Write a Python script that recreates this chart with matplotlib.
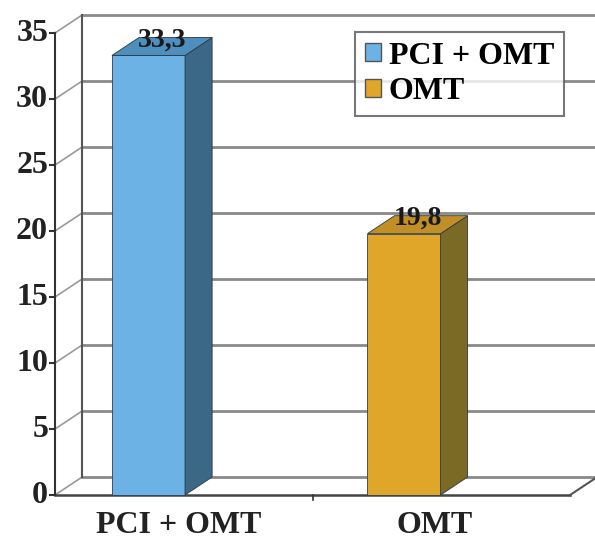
import matplotlib.pyplot as plt
from matplotlib.patches import Polygon, Patch

plt.rcParams['font.family'] = ['Liberation Serif', 'DejaVu Serif']
plt.rcParams['font.weight'] = 'bold'

# data
groups = ['PCI + OMT', 'OMT']
values = [33.3, 19.8]
y_ticks = [0, 5, 10, 15, 20, 25, 30, 35]

front_colors = ['#6cb2e4', '#e0a62a']
side_colors = ['#3b6884', '#7b6a26']
top_colors = ['#4f8fbd', '#c28f27']

# 3d look: depth offset in data units
DX = 0.106
DY = 1.36
BAR_W = 0.286
X_LEFT = -0.366
X_RIGHT = 1.65
Y_MAX = 35

fig = plt.figure(figsize=(5.95, 5.42), dpi=100)
ax = fig.add_axes([0, 0, 1, 1])
ax.set_xlim(-0.5812, 1.7476)
ax.set_ylim(-3.56, 37.5)
ax.axis('off')

grid_col = '#8a8a8a'

# back wall gridlines + left wall diagonals
for t in y_ticks:
    ax.plot([X_LEFT + DX, X_RIGHT + DX + 0.02], [t + DY, t + DY], color=grid_col, lw=2, zorder=1)
    ax.plot([X_LEFT, X_LEFT + DX], [t, t + DY], color='#9a9a9a', lw=1.2, zorder=1)
ax.plot([X_LEFT + DX, X_LEFT + DX], [DY, Y_MAX + DY], color='#555555', lw=1.5, zorder=1)

# floor
ax.plot([X_LEFT, X_RIGHT], [0, 0], color='#444444', lw=1.8, zorder=1)
ax.plot([X_RIGHT, X_RIGHT + DX], [0, DY], color='#555555', lw=1.5, zorder=1)

# front value axis with ticks
ax.plot([X_LEFT, X_LEFT], [0, Y_MAX], color='#333333', lw=1.5, zorder=4)
for t in y_ticks:
    ax.plot([X_LEFT - 0.02, X_LEFT], [t, t], color='#333333', lw=1.5, zorder=4)
    ax.text(X_LEFT - 0.027, t, str(t), ha='right', va='center', fontsize=23, color='#222222')
ax.plot([0.642, 0.642], [0, -0.35], color='#333333', lw=1.2)

# bars
for i, v in enumerate(values):
    l = i - BAR_W / 2
    r = i + BAR_W / 2
    ax.add_patch(Polygon([(l, 0), (r, 0), (r, v), (l, v)], closed=True,
                         facecolor=front_colors[i], edgecolor='#2a4050', lw=0.6, zorder=3))
    ax.add_patch(Polygon([(r, 0), (r + DX, DY), (r + DX, v + DY), (r, v)], closed=True,
                         facecolor=side_colors[i], edgecolor='#2a3a40', lw=0.6, zorder=3))
    ax.add_patch(Polygon([(l, v), (l + DX, v + DY), (r + DX, v + DY), (r, v)], closed=True,
                         facecolor=top_colors[i], edgecolor='#2a3a40', lw=0.6, zorder=3))
    ax.text(i + DX / 2, v + DY - 0.2, f'{v:.1f}'.replace('.', ','), ha='center', va='center',
            fontsize=20, color='#1a1a1a', zorder=5)

# category labels
for i, g in enumerate(groups):
    ax.text(i + 0.12, -2.3, g, ha='center', va='center', fontsize=23, color='#222222')

handles = [Patch(facecolor=front_colors[i], edgecolor='#555555', label=groups[i]) for i in range(2)]
leg = ax.legend(handles=handles, loc='upper left', bbox_to_anchor=(0.597, 0.941),
                fontsize=23, frameon=True, fancybox=False, edgecolor='#555555',
                handlelength=0.5, handleheight=0.5, handletextpad=0.25,
                borderpad=0.3, labelspacing=0.2, borderaxespad=0)
leg.get_frame().set_linewidth(1.5)
leg.set_zorder(6)

plt.savefig('out.png', dpi=100)
